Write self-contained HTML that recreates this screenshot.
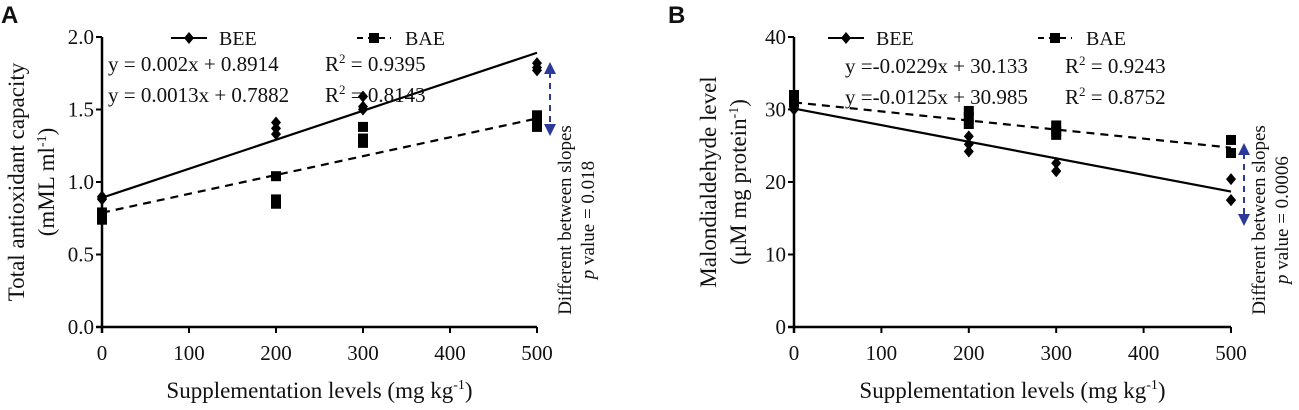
<!DOCTYPE html>
<html><head><meta charset="utf-8"><style>
body{margin:0;background:#fff;width:1299px;height:405px;overflow:hidden}
svg text{fill:#111}
</style></head><body>
<svg id="c" width="1299" height="405"></svg>
<script>
const xTicks=[0,100,200,300,400,500];
const aTicks=["0.0","0.5","1.0","1.5","2.0"];
const bTicks=["0","10","20","30","40"];
const doseX=[0,0,0,200,200,200,300,300,300,500,500,500];
const aBEE=[0.89,0.88,0.90,1.41,1.37,1.33,1.59,1.52,1.50,1.82,1.79,1.77];
const aBAE=[0.79,0.76,0.74,1.04,0.88,0.85,1.38,1.30,1.27,1.46,1.42,1.38];
const bBEE=[30.5,30.2,30.0,26.3,25.2,24.2,22.6,21.5,21.5,20.4,17.5,17.5];
const bBAE=[32.0,31.5,31.0,29.8,29.0,28.0,27.8,27.0,26.5,25.8,24.0,24.0];
const aFit={bee:[0.002,0.8914],bae:[0.0013,0.7882]};
const bFit={bee:[-0.0229,30.133],bae:[-0.0125,30.985]};
const NS="http://www.w3.org/2000/svg";
const svg=document.getElementById('c');
const SERIF="Liberation Serif, DejaVu Serif, serif";
function el(t,a,txt){const e=document.createElementNS(NS,t);for(const k in a)e.setAttribute(k,a[k]);if(t==='text'&&!a['font-family'])e.setAttribute('font-family',SERIF);if(txt!=null)e.textContent=txt;svg.appendChild(e);return e;}
function panel(o){
 const sx=v=>o.x0+(v-0)/500*(o.x1-o.x0);
 const sy=v=>o.yb-(v/o.ymax)*(o.yb-o.yt);
 let e=el('line',{x1:o.x0,y1:o.yt,x2:o.x0,y2:o.yb+6,stroke:'#000','stroke-width':2.5});
 
 e=el('line',{x1:o.x0-6,y1:o.yb,x2:o.x1,y2:o.yb,stroke:'#000','stroke-width':2.5});
 
 xTicks.forEach(t=>{const x=sx(t);el('line',{x1:x,y1:o.yb,x2:x,y2:o.yb+6,stroke:'#000','stroke-width':2});
  e=el('text',{x:x,y:o.yb+33,'text-anchor':'middle','font-size':21},t);
  });
 o.ticks.forEach((t,i)=>{const v=o.ymax*i/(o.ticks.length-1);const y=sy(v);
  el('line',{x1:o.x0-6,y1:y,x2:o.x0,y2:y,stroke:'#000','stroke-width':2});
  e=el('text',{x:o.x0-8,y:y+7,'text-anchor':'end','font-size':21},t);
  });
 e=el('line',{x1:sx(0),y1:sy(o.fit.bee[1]),x2:sx(500),y2:sy(o.fit.bee[1]+o.fit.bee[0]*500),stroke:'#000','stroke-width':2.2});
 
 e=el('line',{x1:sx(0),y1:sy(o.fit.bae[1]),x2:sx(500),y2:sy(o.fit.bae[1]+o.fit.bae[0]*500),stroke:'#000','stroke-width':2.2,'stroke-dasharray':'8,6'});
 
 doseX.forEach((d,i)=>{const x=sx(d),y=sy(o.bee[i]);
  e=el('polygon',{points:`${x},${y-6} ${x+5},${y} ${x},${y+6} ${x-5},${y}`,fill:'#000'});
  
  const y2=sy(o.bae[i]);
  e=el('rect',{x:x-5,y:y2-5,width:10,height:10,fill:'#000'});
  });
 const ly=o.yt+1;
 el('line',{x1:o.lg[0],y1:ly,x2:o.lg[0]+36,y2:ly,stroke:'#000','stroke-width':2});
 el('polygon',{points:`${o.lg[0]+18},${ly-6} ${o.lg[0]+23},${ly} ${o.lg[0]+18},${ly+6} ${o.lg[0]+13},${ly}`,fill:'#000'});
 e=el('text',{x:o.lg[0]+48,y:ly+7,'font-size':20},'BEE');
 el('line',{x1:o.lg[1],y1:ly,x2:o.lg[1]+34,y2:ly,stroke:'#000','stroke-width':2,'stroke-dasharray':'6,5'});
 el('rect',{x:o.lg[1]+12,y:ly-5,width:10,height:10,fill:'#000'});
 e=el('text',{x:o.lg[1]+48,y:ly+7,'font-size':20},'BAE');
 o.eq.forEach((s,i)=>{e=el('text',{x:o.eqx,y:o.eqy+i*31,'font-size':21},s);
  e=el('text',{x:o.rx,y:o.eqy+i*31,'font-size':21});e.innerHTML='R<tspan dy="-8" font-size="13">2</tspan><tspan dy="8"> = '+o.r2[i]+'</tspan>';
  });
 const ax=o.ax;
 el('line',{x1:ax,y1:o.ar[0]+10,x2:ax,y2:o.ar[1]-10,stroke:'#2b3a9a','stroke-width':2,'stroke-dasharray':'6,5'});
 e=el('polygon',{points:`${ax},${o.ar[0]} ${ax+6},${o.ar[0]+12} ${ax-6},${o.ar[0]+12}`,fill:'#2b3a9a'});
 
 e=el('polygon',{points:`${ax},${o.ar[1]} ${ax+6},${o.ar[1]-12} ${ax-6},${o.ar[1]-12}`,fill:'#2b3a9a'});
 
 e=el('text',{transform:`translate(${ax+21},${o.nc}) rotate(-90)`,'text-anchor':'middle','font-size':19},'Different between slopes');
 
 e=el('text',{transform:`translate(${ax+44},${o.nc}) rotate(-90)`,'text-anchor':'middle','font-size':19});
 e.innerHTML='<tspan font-style="italic">p</tspan> value = '+o.p;
 
 e=el('text',{transform:`translate(${o.yt1},${(o.yt+o.yb)/2}) rotate(-90)`,'text-anchor':'middle','font-size':23},o.yl[0]);
 
 e=el('text',{transform:`translate(${o.yt1+30},${(o.yt+o.yb)/2}) rotate(-90)`,'text-anchor':'middle','font-size':23});e.innerHTML=o.yl[1];
 
 e=el('text',{x:(o.x0+o.x1)/2,y:398,'text-anchor':'middle','font-size':23});
 e.innerHTML='Supplementation levels (mg kg<tspan dy="-9" font-size="14">-1</tspan><tspan dy="9">)</tspan>';
 
 e=el('text',{x:o.lx,y:23,'font-size':24,'font-weight':'bold','font-family':'Liberation Sans, sans-serif'},o.id);
 
}
panel({id:'A',x0:102,x1:537,yt:37,yb:327,ymax:2,ticks:aTicks,bee:aBEE,bae:aBAE,fit:aFit,lg:[171,357],
 eq:['y = 0.002x + 0.8914','y = 0.0013x + 0.7882'],r2:['0.9395','0.8143'],eqx:108,eqy:71,rx:325,
 ax:550,ar:[62,136],nc:220,p:'0.018',yt1:24,yl:['Total antioxidant capacity','(mML ml<tspan dy="-8" font-size="14">-1</tspan><tspan dy="8">)</tspan>'],lx:1});
panel({id:'B',x0:794,x1:1231,yt:37,yb:327,ymax:40,ticks:bTicks,bee:bBEE,bae:bBAE,fit:bFit,lg:[828,1038],
 eq:['y =-0.0229x + 30.133','y =-0.0125x + 30.985'],r2:['0.9243','0.8752'],eqx:845,eqy:73,rx:1065,
 ax:1244,ar:[143,226],nc:220,p:'0.0006',yt1:716,yl:['Malondialdehyde level','(μM mg protein<tspan dy="-8" font-size="14">-1</tspan><tspan dy="8">)</tspan>'],lx:668});
</script>
</body></html>
